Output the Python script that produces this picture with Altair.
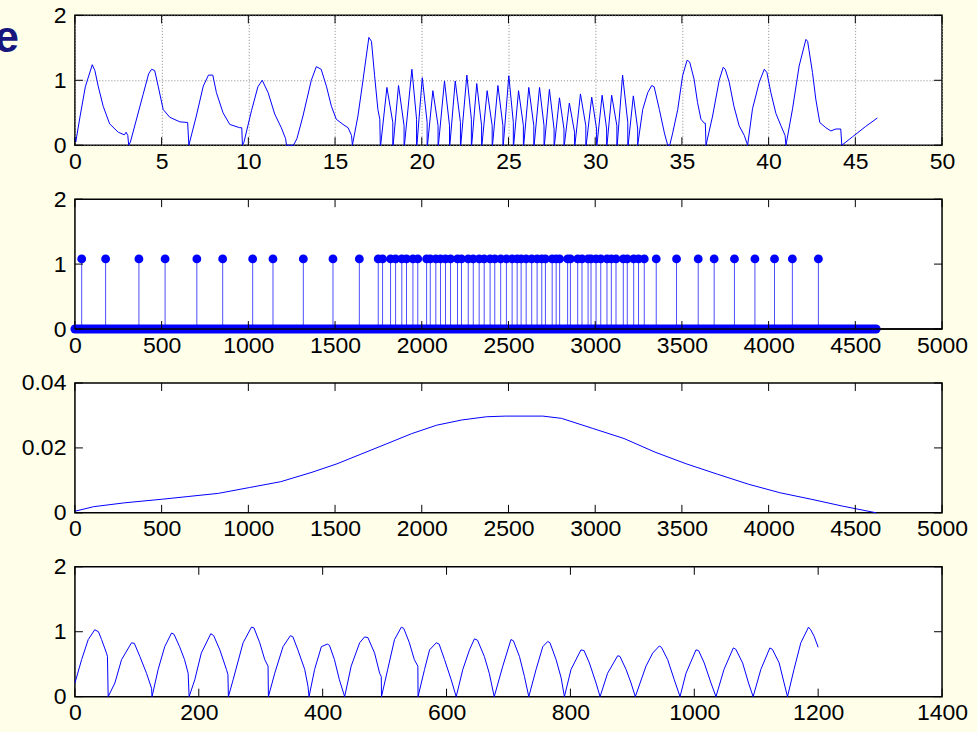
import altair as alt
import pandas as pd

BLUE = "#0000FF"
SLIDE_BG = "#FFFFE9"
TITLE_BLUE = "#16167E"
FONT = "Liberation Sans"
W, H = 868, 130
TICK = 8

# ---------- panel 1: envelope against time (s) ----------
lead_t = [0.0, 0.05, 0.3, 0.6, 1.0, 1.15, 1.35, 1.63, 2.0, 2.5, 2.85, 2.95, 3.05, 3.1,
          3.2, 3.6, 3.93, 4.25, 4.42, 4.6, 4.8, 5.09, 5.47, 6.05, 6.5, 6.57,
          7.0, 7.4, 7.7, 7.95, 8.16, 8.54, 8.93, 9.5, 9.62, 9.66,
          9.75, 10.18, 10.55, 10.8, 11.14, 11.52, 11.9, 12.15, 12.2, 12.6, 12.8,
          13.15, 13.63, 13.92, 14.2, 14.5, 14.79, 15.07, 15.46, 15.75, 15.95, 16.0,
          16.32, 16.61, 16.95, 17.1, 17.28, 17.47, 17.58, 17.61]
lead_v = [0.12, 0.05, 0.45, 0.9, 1.24, 1.15, 0.9, 0.6, 0.33, 0.2, 0.16, 0.2, 0.15, 0.0,
          0.05, 0.45, 0.78, 1.1, 1.17, 1.15, 0.91, 0.55, 0.43, 0.36, 0.35, 0.0,
          0.45, 0.91, 1.08, 1.08, 0.81, 0.5, 0.32, 0.27, 0.27, 0.0,
          0.05, 0.53, 0.9, 1.0, 0.81, 0.48, 0.27, 0.1, 0.0, 0.0, 0.1,
          0.45, 1.0, 1.21, 1.17, 0.91, 0.6, 0.4, 0.32, 0.27, 0.15, 0.0,
          0.45, 1.0, 1.66, 1.6, 1.07, 0.55, 0.4, 0.0]

# short pulses in the middle section
pulse_start = [17.63, 18.35, 19.0, 19.72, 20.33, 20.96, 21.62, 22.25, 22.88, 23.47, 24.08, 24.7,
               25.3, 25.88, 26.48, 27.07, 27.65, 28.22, 28.83, 29.48, 30.1, 30.68, 31.27, 31.9]
pulse_peak_t = [17.99, 18.66, 19.43, 20.03, 20.64, 21.31, 21.93, 22.6, 23.17, 23.77, 24.39, 25.02,
                25.58, 26.17, 26.79, 27.36, 27.94, 28.51, 29.15, 29.8, 30.4, 30.95, 31.58, 32.2]
pulse_peak_v = [0.89, 0.92, 1.17, 1.04, 0.84, 0.99, 0.99, 1.08, 0.95, 0.84, 0.92, 1.07,
                0.84, 0.89, 0.89, 0.86, 0.73, 0.65, 0.79, 0.74, 0.77, 0.77, 1.08, 0.76]
pulse_end_t = [18.33, 18.98, 19.7, 20.31, 20.94, 21.6, 22.23, 22.86, 23.45, 24.06, 24.68, 25.28,
               25.86, 26.46, 27.05, 27.63, 28.2, 28.81, 29.46, 30.08, 30.66, 31.25, 31.88, 32.45]
pulse_end_v = [0.35, 0.3, 0.4, 0.35, 0.3, 0.3, 0.35, 0.4, 0.3, 0.3, 0.3, 0.35,
               0.3, 0.3, 0.3, 0.25, 0.25, 0.2, 0.3, 0.25, 0.25, 0.3, 0.35, 0.25]

tail_t = [32.74, 33.03, 33.26, 33.4, 33.7, 33.99, 34.18, 34.3, 34.47, 34.76, 35.04, 35.3, 35.45,
          35.7, 35.9, 36.1, 36.29, 36.35, 36.39,
          36.77, 37.15, 37.38, 37.5, 37.73, 38.0, 38.3, 38.6, 38.79,
          39.07, 39.46, 39.75, 39.9, 40.13, 40.42, 40.71, 40.95, 41.0,
          41.38, 41.76, 42.15, 42.25, 42.53, 42.72, 42.95, 43.3, 43.59, 43.88, 44.16, 44.22,
          44.84, 45.6, 46.27]
tail_v = [0.55, 0.81, 0.92, 0.9, 0.55, 0.19, 0.0, 0.0, 0.19, 0.55, 1.07, 1.31, 1.28,
          1.02, 0.66, 0.4, 0.34, 0.34, 0.0,
          0.45, 1.0, 1.2, 1.17, 0.97, 0.6, 0.3, 0.15, 0.0,
          0.56, 0.97, 1.17, 1.12, 0.81, 0.49, 0.3, 0.15, 0.0,
          0.56, 1.22, 1.63, 1.6, 1.12, 0.71, 0.35, 0.27, 0.22, 0.25, 0.25, 0.0,
          0.13, 0.29, 0.42]

# ---------- panel 2: detected onsets (sample index) ----------
onset_x = [39, 177, 369, 520, 703, 852, 1025, 1142, 1317, 1488, 1640,
           1749, 1774, 1820, 1849, 1885, 1912, 1949, 1977, 2028, 2049, 2081, 2108, 2137, 2166,
           2206, 2229, 2268, 2297, 2331, 2360, 2394, 2421, 2455, 2488, 2521, 2550, 2573, 2602,
           2634, 2665, 2692, 2713, 2752, 2775, 2795, 2841, 2857, 2899, 2924, 2959, 2976, 3005,
           3032, 3068, 3093, 3120, 3162, 3185, 3222, 3250, 3283,
           3352, 3469, 3594, 3686, 3803, 3921, 4034, 4137, 4287]
onset_height = 1.08
zero_span = [0, 4620]

# ---------- panel 3: smoothing window ----------
win_x = [0, 108, 288, 504, 647, 827, 1007, 1187, 1367, 1511, 1655, 1799, 1942, 2086, 2230,
         2374, 2482, 2698, 2806, 2986, 3166, 3345, 3525, 3705, 3885, 4065, 4245, 4424, 4622]
win_v = [0.0005, 0.0019, 0.0031, 0.0042, 0.005, 0.006, 0.0078, 0.0096, 0.0125, 0.0151, 0.0182,
         0.0213, 0.0244, 0.027, 0.0286, 0.0296, 0.0298, 0.0298, 0.0291, 0.026, 0.0229, 0.0187,
         0.0151, 0.0119, 0.0088, 0.0062, 0.0042, 0.0021, 0.0]

# ---------- panel 4: periodic envelope ----------
env_x = [0, 10.8, 21.5, 32, 38, 43, 51, 52.5, 53.7,
         64.5, 75.3, 91.4, 96, 104.8, 115.6, 123.7, 124.5,
         134.4, 145, 156, 160, 169, 177, 182.8, 184.4,
         193.5, 204, 219.4, 224, 234, 244.6, 247, 247.8,
         255.4, 271.5, 285, 289, 298.4, 306.5, 311.8, 312.4,
         322.6, 336, 347.9, 352, 360, 371, 376.3, 378,
         387, 397.9, 407.5, 411, 419, 427, 435.5,
         446, 459.7, 467.7, 473, 483.9, 492, 494.6, 495,
         505, 516, 527, 531, 540, 548, 553.7, 554,
         564.5, 572.6, 583.4, 588, 596.8, 607.5, 615.6,
         626.3, 637, 645, 650, 661, 669, 677,
         690.8, 704, 708, 717.7, 725.8, 732.8,
         744.6, 755.4, 763.4, 767, 776.9, 785, 790.3,
         801, 817, 822, 830.6, 841.4, 847.9,
         860, 876.3, 880, 889.8, 897.9, 904.8,
         922, 932.8, 943.5, 947, 957, 967.7, 977,
         986.6, 1002.7, 1007, 1016, 1027, 1035,
         1048, 1063, 1067, 1078, 1087.6, 1095,
         1107.5, 1122, 1126, 1137, 1145, 1150.5,
         1161, 1172, 1184.4, 1188, 1193.5, 1200]
env_v = [0.21, 0.57, 0.88, 1.03, 1.0, 0.88, 0.67, 0.62, 0.0,
         0.21, 0.57, 0.83, 0.82, 0.62, 0.36, 0.13, 0.0,
         0.42, 0.77, 0.98, 0.96, 0.77, 0.57, 0.36, 0.0,
         0.26, 0.67, 0.97, 0.94, 0.72, 0.42, 0.34, 0.0,
         0.26, 0.83, 1.07, 1.06, 0.83, 0.57, 0.47, 0.0,
         0.36, 0.77, 0.94, 0.92, 0.72, 0.42, 0.16, 0.0,
         0.42, 0.77, 0.81, 0.79, 0.57, 0.26, 0.0,
         0.47, 0.83, 0.92, 0.91, 0.67, 0.36, 0.31, 0.0,
         0.42, 0.88, 1.07, 1.05, 0.83, 0.57, 0.47, 0.0,
         0.42, 0.72, 0.83, 0.81, 0.57, 0.26, 0.0,
         0.42, 0.72, 0.89, 0.87, 0.62, 0.36, 0.0,
         0.47, 0.88, 0.86, 0.62, 0.31, 0.0,
         0.42, 0.77, 0.85, 0.83, 0.57, 0.29, 0.0,
         0.42, 0.72, 0.71, 0.52, 0.21, 0.0,
         0.36, 0.63, 0.62, 0.42, 0.21, 0.0,
         0.47, 0.67, 0.78, 0.76, 0.57, 0.26, 0.0,
         0.36, 0.72, 0.71, 0.52, 0.21, 0.0,
         0.42, 0.75, 0.73, 0.52, 0.21, 0.0,
         0.42, 0.75, 0.73, 0.52, 0.21, 0.0,
         0.42, 0.83, 1.07, 1.03, 0.93, 0.76]

# tick positions and axis ranges
p1_xticks = [0, 5, 10, 15, 20, 25, 30, 35, 40, 45, 50]
p2_xticks = [0, 500, 1000, 1500, 2000, 2500, 3000, 3500, 4000, 4500, 5000]
p4_xticks = [0, 200, 400, 600, 800, 1000, 1200, 1400]
unit_yticks = [0.0, 1.0, 2.0]
win_yticks = [0.0, 0.02, 0.04]


def polyline(xs, ys):
    return pd.DataFrame({"x": xs, "y": ys, "i": range(len(xs))})


def pulse_train():
    xs, ys = list(lead_t), list(lead_v)
    for s, pt, pv, et, ev in zip(pulse_start, pulse_peak_t, pulse_peak_v, pulse_end_t, pulse_end_v):
        xs += [s, pt, et, et]
        ys += [0.0, pv, ev, 0.0]
    xs += tail_t
    ys += tail_v
    return polyline(xs, ys)


def make_axis(values, fmt, grid, pad):
    return alt.Axis(values=values, tickCount=30, format=fmt, title=None, ticks=False, domain=False,
                    grid=grid, gridColor="#8a8a8a", gridDash=[1, 2], gridWidth=1,
                    labelFont=FONT, labelFontSize=23, labelColor="black",
                    labelPadding=pad, labelFlush=False, labelOverlap=False)


class Panel:
    """Shared x/y encodings so every layer of a panel uses one scale and one axis."""

    def __init__(self, xdom, ydom, xticks, yticks, grid=False):
        self.xs = alt.Scale(domain=xdom, nice=False, zero=False)
        self.ys = alt.Scale(domain=ydom, nice=False, zero=False)
        self.xa = make_axis(xticks, "d", grid, 5)
        self.ya = make_axis(yticks, "~g", grid, 9)
        self.xticks, self.yticks = xticks, yticks

    def X(self, field):
        return alt.X(field, scale=self.xs, axis=self.xa)

    def Y(self, field):
        return alt.Y(field, scale=self.ys, axis=self.ya)

    def inner_ticks(self):
        """Inward-pointing tick marks on all four sides of the box."""
        xd = pd.DataFrame({"x": self.xticks})
        yd = pd.DataFrame({"y": self.yticks})
        bx = alt.Chart(xd).mark_rule(color="black", strokeWidth=1)
        by = alt.Chart(yd).mark_rule(color="black", strokeWidth=1)
        return [
            bx.encode(x=self.X("x:Q"), y=alt.value(H), y2=alt.value(H - TICK)),
            bx.encode(x=self.X("x:Q"), y=alt.value(0), y2=alt.value(TICK)),
            by.encode(y=self.Y("y:Q"), x=alt.value(0), x2=alt.value(TICK)),
            by.encode(y=self.Y("y:Q"), x=alt.value(W), x2=alt.value(W - TICK)),
        ]

    def line(self, df):
        return alt.Chart(df).mark_line(color=BLUE, strokeWidth=1).encode(
            x=self.X("x:Q"), y=self.Y("y:Q"), order="i:Q"
        )


# panel 1
a1 = Panel([0, 50], [0, 2], p1_xticks, unit_yticks, grid=True)
heading = alt.Chart(pd.DataFrame({"s": ["e"]})).mark_text(
    font=FONT, fontSize=44, fontWeight="bold", color=TITLE_BLUE,
    align="right", baseline="alphabetic",
).encode(text="s:N", x=alt.value(-56), y=alt.value(37))
p1 = alt.layer(a1.line(pulse_train()), *a1.inner_ticks(), heading).properties(width=W, height=H)

# panel 2
a2 = Panel([0, 5000], [0, 2], p2_xticks, unit_yticks)
onsets = pd.DataFrame({"x": onset_x, "y": [onset_height] * len(onset_x), "y0": [0.0] * len(onset_x)})
stems = alt.Chart(onsets).mark_rule(color=BLUE, strokeWidth=1, opacity=0.7).encode(
    x=a2.X("x:Q"), y=a2.Y("y0:Q"), y2="y:Q"
)
zero_band = alt.Chart(pd.DataFrame({"x": zero_span, "y": [0.0, 0.0]})).mark_line(
    color=BLUE, strokeWidth=9, strokeCap="round"
).encode(x=a2.X("x:Q"), y=a2.Y("y:Q"))
heads = alt.Chart(onsets).mark_circle(color=BLUE, opacity=1, size=78).encode(
    x=a2.X("x:Q"), y=a2.Y("y:Q")
)
baseline = alt.Chart(pd.DataFrame({"k": [0]})).mark_rule(color="black", strokeWidth=1.5).encode(
    x=alt.value(0), x2=alt.value(W), y=alt.value(H)
)
p2 = alt.layer(stems, zero_band, heads, baseline, *a2.inner_ticks()).properties(width=W, height=H)

# panel 3
a3 = Panel([0, 5000], [0, 0.04], p2_xticks, win_yticks)
p3 = alt.layer(a3.line(polyline(win_x, win_v)), *a3.inner_ticks()).properties(width=W, height=H)

# panel 4
a4 = Panel([0, 1400], [0, 2], p4_xticks, unit_yticks)
p4 = alt.layer(a4.line(polyline(env_x, env_v)), *a4.inner_ticks()).properties(width=W, height=H)

chart = alt.vconcat(p1, p2, p3, p4, spacing=54, bounds="flush").properties(
    padding={"left": -7, "top": 3, "right": 8, "bottom": 6}
).configure(background=SLIDE_BG).configure_view(
    fill="white", stroke="black", strokeWidth=1.5
)

chart.save("out.html", embed_options={"renderer": "svg", "actions": False})
